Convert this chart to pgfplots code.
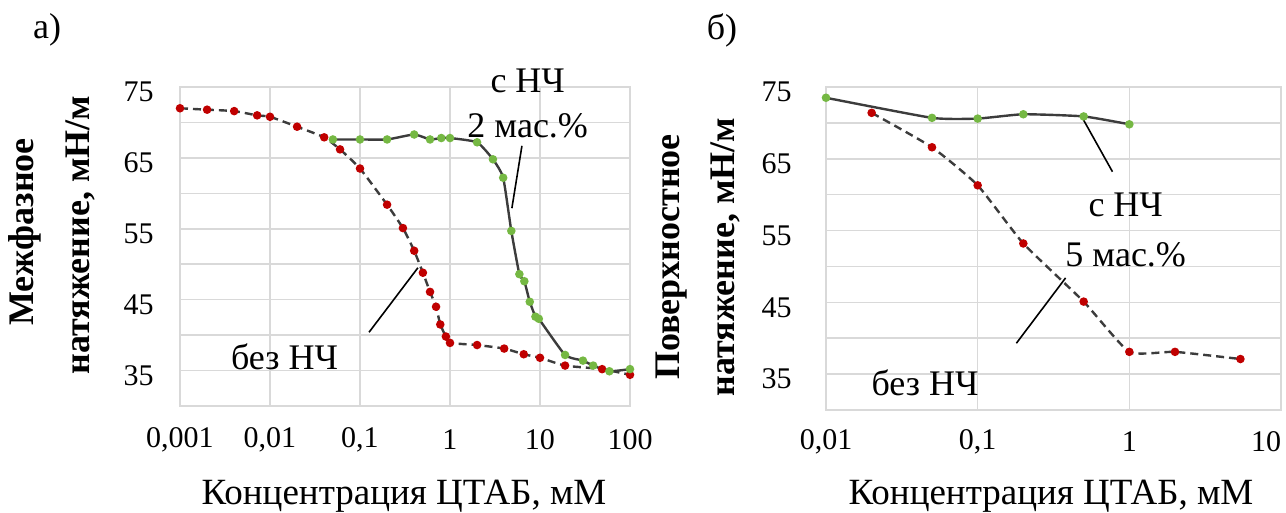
\documentclass[border=0pt]{standalone}
\usepackage{fontspec}
\setmainfont{Liberation Serif}
\usepackage{pgfplots}
\pgfplotsset{compat=1.18}

\definecolor{gridgray}{HTML}{D9D9D9}
\definecolor{redpt}{HTML}{C00000}
\definecolor{greenpt}{HTML}{75B843}
\definecolor{linegray}{HTML}{3C3C3C}

\tikzset{
  nowire/.style={color=linegray, line width=1.2pt, dash pattern=on 4pt off 2.5pt,
    mark=*, mark size=1.5pt, mark options={solid, draw=redpt, fill=redpt}},
  withnp/.style={color=linegray, line width=1.2pt,
    mark=*, mark size=1.5pt, mark options={solid, draw=greenpt, fill=greenpt}},
  anno/.style={font=\fontsize{18}{21}\selectfont, inner sep=0pt},
  ylab/.style={font=\fontsize{18}{21}\selectfont\bfseries, rotate=90, inner sep=0pt},
  xlab/.style={font=\fontsize{18.5}{21}\selectfont, inner sep=0pt},
}

\pgfplotsset{
  every axis/.append style={
    scale only axis, xmode=log,
    ymin=30, ymax=75,
    ytick={35,45,55,65,75}, yticklabels={35,45,55,65,75},
    minor ytick={30,40,50,60,70},
    xmajorgrids, ymajorgrids, yminorgrids,
    major grid style={gridgray, line width=0.8pt},
    minor grid style={gridgray, line width=0.8pt},
    axis line style={gridgray, line width=0.8pt},
    major tick length=0pt, minor tick length=0pt,
    tick style={draw=none},
    tick label style={font=\fontsize{15}{18}\selectfont, inner sep=0pt},
    clip=false,
  },
}

\begin{document}
\begin{tikzpicture}
\path[use as bounding box] (0,0) rectangle (643pt,256.5pt);

% a) interfacial tension
\begin{axis}[
  at={(90pt,53.5pt)}, anchor=south west, width=225pt, height=159.5pt,
  xmin=0.001, xmax=100,
  xtick={0.001,0.01,0.1,1,10,100},
  xticklabels={{0,001},{0,01},{0,1},1,10,100},
  xticklabel style={anchor=center, yshift=-17pt},
  yticklabel style={anchor=east, xshift=-13pt, yshift=-2.5pt},
]
\addplot[nowire, smooth, tension=0.3] coordinates {
  (0.001,72.0) (0.002,71.8) (0.004,71.6) (0.0072,71.0) (0.01,70.8)
  (0.02,69.4) (0.04,67.9) (0.06,66.2) (0.1,63.5) (0.2,58.4)
  (0.3,55.1) (0.4,51.9) (0.5,48.8) (0.6,46.1) (0.7,44.0)
  (0.78,41.5) (0.9,39.8) (1.0,38.9) (2.0,38.6) (4.0,38.1)
  (6.6,37.3) (10,36.8) (19,35.7) (49,35.2) (100,34.4)};
\addplot[withnp, smooth, tension=0.3] coordinates {
  (0.05,67.6) (0.1,67.6) (0.2,67.6) (0.4,68.3) (0.6,67.6)
  (0.8,67.8) (1.0,67.8) (2.0,67.2) (3.0,64.8) (3.9,62.2)
  (4.8,54.7) (5.9,48.6) (6.7,47.6) (7.7,44.7) (8.9,42.6)
  (9.7,42.3) (19,37.2) (30,36.4) (39,35.7) (59,34.9) (100,35.2)};
\draw[black, line width=0.8pt] (axis cs:6.3,66.7) -- (axis cs:4.87,57.9);
\draw[black, line width=0.8pt] (axis cs:0.44,49.5) -- (axis cs:0.126,40.4);
\node[anno] at (axis cs:7.3,75.85) {с НЧ};
\node[anno] at (axis cs:7.3,69.5) {2 мас.\%};
\node[anno] at (axis cs:0.0145,36.9) {без НЧ};
\end{axis}

% b) surface tension
\begin{axis}[
  at={(413pt,51.5pt)}, anchor=south west, width=227.5pt, height=161.5pt,
  xmin=0.01, xmax=10,
  xtick={0.01,0.1,1,10},
  xticklabels={{0,01},{0,1},1,\makebox[0pt][r]{10}},
  xticklabel style={anchor=center, yshift=-16pt},
  yticklabel style={anchor=east, xshift=-17pt, yshift=-2.5pt},
]
\addplot[nowire, smooth, tension=0.3] coordinates {
  (0.02,71.4) (0.05,66.6) (0.1,61.3) (0.2,53.2) (0.5,45.1)
  (1.0,38.1) (2.0,38.1) (5.4,37.1)};
\addplot[withnp, smooth, tension=0.3] coordinates {
  (0.01,73.5) (0.05,70.7) (0.1,70.6) (0.2,71.2) (0.5,70.9) (1.0,69.8)};
\draw[black, line width=0.8pt] (axis cs:0.49,70.7) -- (axis cs:0.774,63.2);
\draw[black, line width=0.8pt] (axis cs:0.38,48.4) -- (axis cs:0.18,39.3);
\node[anno] at (axis cs:0.946,58.6) {с НЧ};
\node[anno] at (axis cs:0.946,51.6) {5 мас.\%};
\node[anno] at (axis cs:0.045,33.8) {без НЧ};
\end{axis}

% panel letters
\node[anno] at (23.5pt,241.5pt) {а)};
\node[anno] at (361pt,241.5pt) {б)};

% axis titles
\node[xlab] at (202pt,8.5pt) {Концентрация ЦТАБ, мМ};
\node[xlab] at (525.5pt,8.5pt) {Концентрация ЦТАБ, мМ};
\node[ylab] at (12.5pt,140.5pt) {Межфазное};
\node[ylab] at (40pt,139pt) {натяжение, мН/м};
\node[ylab] at (336pt,128pt) {Поверхностное};
\node[ylab] at (362.5pt,128pt) {натяжение, мН/м};
\end{tikzpicture}
\end{document}
